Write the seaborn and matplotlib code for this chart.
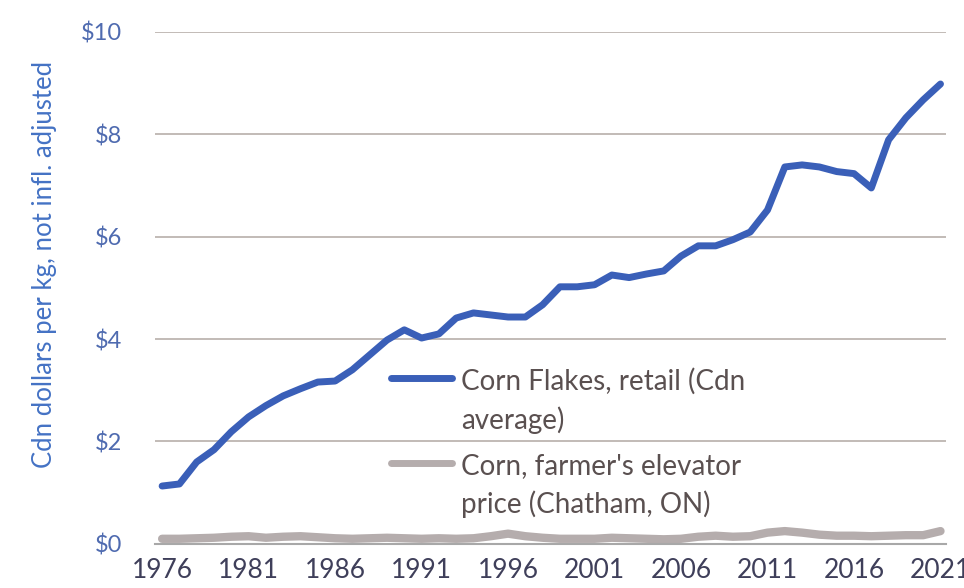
import numpy as np
import pandas as pd
import matplotlib
matplotlib.use("Agg")
import matplotlib.pyplot as plt
import seaborn as sns

years = list(range(1976, 2022))
corn_flakes = [1.13, 1.17, 1.60, 1.84, 2.19, 2.48, 2.70, 2.89, 3.03, 3.16,
               3.18, 3.40, 3.69, 3.98, 4.18, 4.02, 4.10, 4.41, 4.51, 4.47,
               4.43, 4.43, 4.67, 5.02, 5.02, 5.06, 5.25, 5.20, 5.27, 5.33,
               5.62, 5.82, 5.82, 5.94, 6.09, 6.52, 7.36, 7.40, 7.36, 7.27,
               7.23, 6.95, 7.89, 8.32, 8.67, 8.98]
corn_elevator = [0.10, 0.10, 0.11, 0.12, 0.14, 0.15, 0.12, 0.14, 0.15, 0.13,
                 0.11, 0.10, 0.11, 0.12, 0.11, 0.10, 0.11, 0.10, 0.11, 0.15,
                 0.20, 0.15, 0.12, 0.10, 0.10, 0.10, 0.12, 0.11, 0.10, 0.09,
                 0.10, 0.14, 0.16, 0.14, 0.15, 0.22, 0.25, 0.22, 0.18, 0.16,
                 0.16, 0.15, 0.16, 0.17, 0.17, 0.25]
labels = ["Corn Flakes, retail (Cdn\naverage)",
          "Corn, farmer's elevator\nprice (Chatham, ON)"]
xticks = list(range(1976, 2022, 5))
yticks = [0, 2, 4, 6, 8, 10]

df = pd.DataFrame({"year": years * 2,
                   "price": corn_flakes + corn_elevator,
                   "series": [labels[0]] * len(years) + [labels[1]] * len(years)})

sns.set_style("white")
plt.rcParams['font.family'] = ['Lato', 'DejaVu Sans']

fig = plt.figure(figsize=(9.64, 5.88), dpi=100)
ax = fig.add_axes([0.161, 0.075, 0.82, 0.871])

sns.lineplot(data=df, x="year", y="price", hue="series", hue_order=labels,
             palette=["#3A5FB8", "#B5ADAD"], linewidth=5, ax=ax)
ax.lines[1].set_linewidth(6)

ax.set_xlim(1975.6, 2021.3)
ax.set_ylim(0, 10)
ax.set_xticks(xticks)
ax.set_yticks(yticks)
ax.set_yticklabels([f"${v}" for v in yticks])
ax.yaxis.grid(True, color="#B8AFAA", linewidth=1.2)
ax.set_axisbelow(True)
for s in ["top", "right", "left"]:
    ax.spines[s].set_visible(False)
ax.spines["bottom"].set_color("#A8A8A8")
ax.spines["bottom"].set_linewidth(1.5)

ax.tick_params(axis="y", colors="#4F6BB0", labelsize=17, length=0, pad=24)
ax.tick_params(axis="x", colors="#3F3F5A", labelsize=19, length=0, pad=10)
ax.set_xlabel("")
ax.set_ylabel("Cdn dollars per kg, not infl. adjusted", color="#4472C4",
              fontsize=18.5)
ax.yaxis.set_label_coords(-0.124, 0.545)

leg = ax.legend(loc="upper left", bbox_to_anchor=(0.267, 0.392), frameon=False,
                fontsize=20, handlelength=2.2, handletextpad=0.3,
                labelspacing=0.7, labelcolor="#5A5050")
leg.set_title(None)
for t in leg.get_texts():
    t.set_linespacing(1.5)
for h in leg.get_lines():
    h.set_linewidth(5)
# handle next to the first line of each label
for col in leg._legend_handle_box.get_children():
    for row in col.get_children():
        row.align = "top"

fig.savefig("out.png", dpi=100)
